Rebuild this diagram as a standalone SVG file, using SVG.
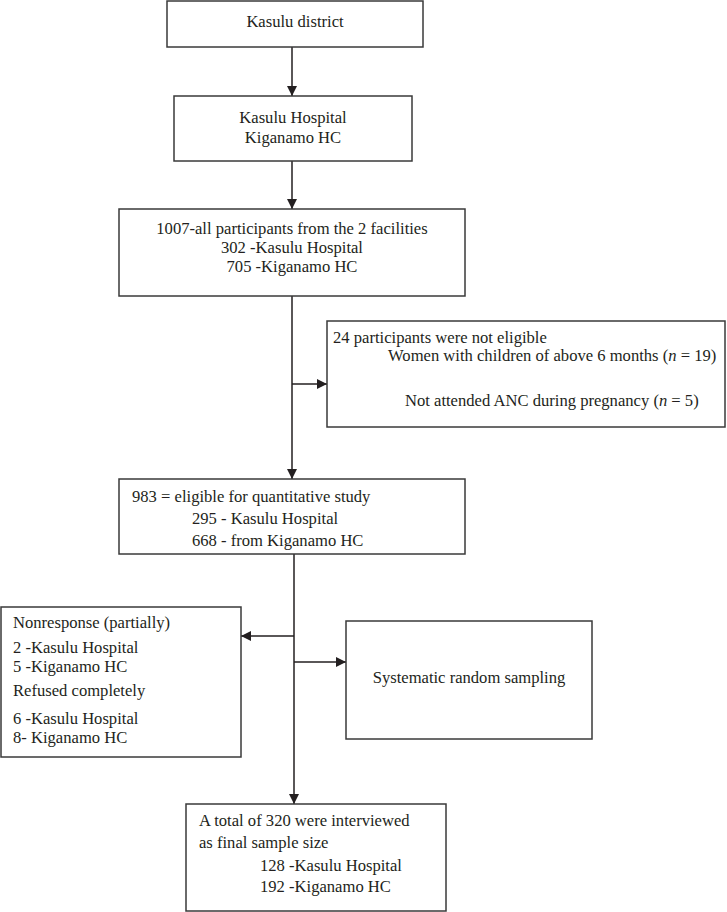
<svg xmlns="http://www.w3.org/2000/svg" width="727" height="912" viewBox="0 0 727 912">
<style>
.box{fill:#fff;stroke:#3a3a3a;stroke-width:1.5}
.ln{fill:none;stroke:#231f20;stroke-width:1.5}
text{font-family:"Liberation Serif","Times New Roman",serif;font-size:16.6px;fill:#231f20}
.c{text-anchor:middle}
</style>
<defs>
<marker id="ah" viewBox="0 0 10 10" refX="10" refY="5" markerWidth="10" markerHeight="10" markerUnits="userSpaceOnUse" orient="auto">
<path d="M0,0 L10,5 L0,10 Z" fill="#231f20"/>
</marker>
</defs>
<rect width="727" height="912" fill="#fff"/>
<g id="connectors">
<line class="ln" x1="292" y1="47" x2="292" y2="96" marker-end="url(#ah)"/>
<line class="ln" x1="292" y1="161" x2="292" y2="209" marker-end="url(#ah)"/>
<line class="ln" x1="292" y1="296" x2="292" y2="479" marker-end="url(#ah)"/>
<line class="ln" x1="292" y1="384" x2="327" y2="384" marker-end="url(#ah)"/>
<line class="ln" x1="294" y1="554" x2="294" y2="804" marker-end="url(#ah)"/>
<line class="ln" x1="294" y1="636" x2="241" y2="636" marker-end="url(#ah)"/>
<line class="ln" x1="294" y1="662" x2="346" y2="662" marker-end="url(#ah)"/>
</g>
<g id="n1">
<rect class="box" x="167" y="1" width="256" height="46"/>
<text class="c" x="295" y="27">Kasulu district</text>
</g>
<g id="n2">
<rect class="box" x="174" y="96" width="238" height="65"/>
<text class="c" x="293" y="123">Kasulu Hospital</text>
<text class="c" x="293" y="143">Kiganamo HC</text>
</g>
<g id="n3">
<rect class="box" x="119" y="209" width="346" height="87"/>
<text class="c" x="292" y="234">1007-all participants from the 2 facilities</text>
<text class="c" x="292" y="253">302 -Kasulu Hospital</text>
<text class="c" x="292" y="272">705 -Kiganamo HC</text>
</g>
<g id="n4">
<rect class="box" x="327" y="321" width="398" height="106"/>
<text x="333" y="343">24 participants were not eligible</text>
<text x="388" y="361">Women with children of above 6 months (<tspan font-style="italic">n</tspan> = 19)</text>
<text x="405" y="406">Not attended ANC during pregnancy (<tspan font-style="italic">n</tspan> = 5)</text>
</g>
<g id="n5">
<rect class="box" x="119" y="479" width="346" height="75"/>
<text x="132" y="502">983 = eligible for quantitative study</text>
<text x="192" y="524">295 - Kasulu Hospital</text>
<text x="192" y="546">668 - from Kiganamo HC</text>
</g>
<g id="n6">
<rect class="box" x="1" y="607" width="240" height="150"/>
<text x="13" y="628">Nonresponse (partially)</text>
<text x="13" y="653">2 -Kasulu Hospital</text>
<text x="13" y="672">5 -Kiganamo HC</text>
<text x="13" y="696">Refused completely</text>
<text x="13" y="724">6 -Kasulu Hospital</text>
<text x="13" y="743">8- Kiganamo HC</text>
</g>
<g id="n7">
<rect class="box" x="346" y="621" width="246" height="118"/>
<text class="c" x="469" y="683">Systematic random sampling</text>
</g>
<g id="n8">
<rect class="box" x="186" y="804" width="260" height="107"/>
<text x="199" y="826">A total of 320 were interviewed</text>
<text x="199" y="848">as final sample size</text>
<text x="260" y="871">128 -Kasulu Hospital</text>
<text x="260" y="892">192 -Kiganamo HC</text>
</g>
</svg>
